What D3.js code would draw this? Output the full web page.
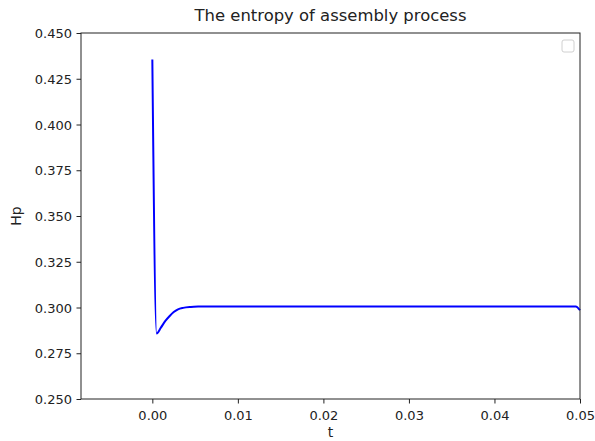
<!DOCTYPE html>
<html>
<head>
<meta charset="utf-8">
<script src="https://cdn.jsdelivr.net/npm/d3@7"></script>
<style>
  body { margin: 0; background: #fff; }
  text { font-family: "DejaVu Sans", sans-serif; fill: #222; }
</style>
</head>
<body>
<div id="chart"></div>
<script>
// data
var tValues  = [0, 0.0005, 0.001, 0.0015, 0.002, 0.0025, 0.003, 0.0036, 0.0045, 0.0055, 0.007, 0.01, 0.02, 0.03, 0.04, 0.0495, 0.05];
var hpValues = [0.4355, 0.2858, 0.2890, 0.2925, 0.2952, 0.2975, 0.2990, 0.2998, 0.3003, 0.3005, 0.3006, 0.3006, 0.3006, 0.3006, 0.3006, 0.3006, 0.2985];
var xTicks = [0, 0.01, 0.02, 0.03, 0.04, 0.05];
var yTicks = [0.25, 0.275, 0.3, 0.325, 0.35, 0.375, 0.4, 0.425, 0.45];

var svgWidth = 595;
var svgHeight = 441;

var margin = { top: 33, right: 15, bottom: 42, left: 81 };
var width = svgWidth - margin.left - margin.right;
var height = svgHeight - margin.top - margin.bottom;

var svg = d3.select("#chart")
    .append("svg")
    .attr("width", svgWidth)
    .attr("height", svgHeight);

var chartGroup = svg.append("g")
    .attr("transform", `translate(${margin.left}, ${margin.top})`);

var xScale = d3.scaleLinear()
    .domain([-0.00834, 0.05])
    .range([0, width]);

var yScale = d3.scaleLinear()
    .domain([0.25, 0.45])
    .range([height, 0]);

var bottomAxis = d3.axisBottom(xScale)
    .tickValues(xTicks)
    .tickFormat(d3.format(".2f"))
    .tickSize(4.5)
    .tickSizeOuter(0);
var leftAxis = d3.axisLeft(yScale)
    .tickValues(yTicks)
    .tickFormat(d3.format(".3f"))
    .tickSize(4.5)
    .tickSizeOuter(0);

var xAxisG = chartGroup.append("g")
    .attr("transform", `translate(0, ${height})`)
    .call(bottomAxis);
var yAxisG = chartGroup.append("g")
    .call(leftAxis);

[xAxisG, yAxisG].forEach(function(g) {
    g.select(".domain").remove();
    g.selectAll("line").attr("stroke", "#222").attr("stroke-width", 1);
    g.selectAll("text")
        .style("font-size", "13px")
        .style("fill", "#222");
});
xAxisG.selectAll("text").attr("y", 8).attr("dy", "1em");
yAxisG.selectAll("text").attr("x", -9).attr("dy", "0.36em");

// line
var points = tValues.map(function(t, i) { return { t: t, hp: hpValues[i] }; });

var line = d3.line()
    .x(d => xScale(d.t))
    .y(d => yScale(d.hp))
    .curve(d3.curveMonotoneX);

chartGroup.append("path")
    .datum(points)
    .attr("fill", "none")
    .attr("stroke", "#0000ff")
    .attr("stroke-width", 2)
    .attr("d", line);

// frame
chartGroup.append("rect")
    .attr("width", width)
    .attr("height", height)
    .attr("fill", "none")
    .attr("stroke", "#222")
    .attr("stroke-width", 1);

// empty legend
chartGroup.append("rect")
    .attr("x", width - 18)
    .attr("y", 7)
    .attr("width", 12)
    .attr("height", 12)
    .attr("rx", 2)
    .attr("fill", "#fff")
    .attr("stroke", "#d0d0d0")
    .attr("stroke-width", 1);

// title and labels
svg.append("text")
    .attr("transform", `translate(${margin.left + width / 2}, 21) scale(1.06, 1)`)
    .attr("text-anchor", "middle")
    .style("font-size", "15.5px")
    .text("The entropy of assembly process");

svg.append("text")
    .attr("x", margin.left + width / 2)
    .attr("y", 437)
    .attr("text-anchor", "middle")
    .style("font-size", "14px")
    .text("t");

svg.append("text")
    .attr("transform", `translate(21, ${margin.top + height / 2}) rotate(-90)`)
    .attr("text-anchor", "middle")
    .style("font-size", "14px")
    .text("Hp");
</script>
</body>
</html>
